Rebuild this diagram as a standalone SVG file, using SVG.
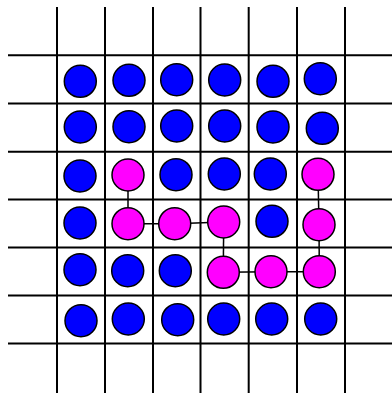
<svg xmlns="http://www.w3.org/2000/svg" width="392" height="393" viewBox="0 0 392 393">
<style>
.grid line{stroke:#000;stroke-width:2}
.conn line{stroke:#000;stroke-width:1.5}
circle{stroke:#000;stroke-width:1.5;r:16px}
.b{fill:#0000ff}
.m{fill:#ff00ff}
</style>
<rect width="392" height="393" fill="#fff"/>
<g class="grid" id="grid">
<line x1="57" y1="7" x2="57" y2="393"/>
<line x1="105" y1="7" x2="105" y2="393"/>
<line x1="153" y1="7" x2="153" y2="393"/>
<line x1="200.5" y1="7" x2="200.5" y2="393"/>
<line x1="248.7" y1="7" x2="248.7" y2="393"/>
<line x1="297" y1="7" x2="297" y2="393"/>
<line x1="345" y1="7" x2="345" y2="393"/>
<line x1="8" y1="55.3" x2="392" y2="55.3"/>
<line x1="8" y1="103.5" x2="392" y2="103.5"/>
<line x1="8" y1="151.7" x2="392" y2="151.7"/>
<line x1="8" y1="199.6" x2="392" y2="199.6"/>
<line x1="8" y1="247.4" x2="392" y2="247.4"/>
<line x1="8" y1="295.4" x2="392" y2="295.4"/>
<line x1="8" y1="343.6" x2="392" y2="343.6"/>
</g>
<g class="conn" id="connectors">
<line x1="128" y1="175" x2="128" y2="223.7"/>
<line x1="128" y1="223.7" x2="174.7" y2="223.7"/>
<line x1="174.7" y1="223.7" x2="223.7" y2="222"/>
<line x1="223.7" y1="222" x2="223.3" y2="272.3"/>
<line x1="223.3" y1="272.3" x2="271" y2="271.7"/>
<line x1="271" y1="271.7" x2="319.3" y2="271.7"/>
<line x1="319.3" y1="271.7" x2="319" y2="224.7"/>
<line x1="319" y1="224.7" x2="318" y2="174.3"/>
</g>
<g id="n11"><circle class="b" cx="80.3" cy="81.3" r="16"/></g>
<g id="n12"><circle class="b" cx="129" cy="80.3" r="16"/></g>
<g id="n13"><circle class="b" cx="176.7" cy="79.7" r="16"/></g>
<g id="n14"><circle class="b" cx="224.7" cy="80" r="16"/></g>
<g id="n15"><circle class="b" cx="273" cy="81.3" r="16"/></g>
<g id="n16"><circle class="b" cx="320.3" cy="78.7" r="16"/></g>
<g id="n21"><circle class="b" cx="80.3" cy="127" r="16"/></g>
<g id="n22"><circle class="b" cx="129" cy="126.7" r="16"/></g>
<g id="n23"><circle class="b" cx="176.7" cy="126" r="16"/></g>
<g id="n24"><circle class="b" cx="224.7" cy="126" r="16"/></g>
<g id="n25"><circle class="b" cx="273" cy="127" r="16"/></g>
<g id="n26"><circle class="b" cx="322.3" cy="128.3" r="16"/></g>
<g id="n31"><circle class="b" cx="80" cy="176" r="16"/></g>
<g id="n32"><circle class="m" cx="128" cy="175" r="16"/></g>
<g id="n33"><circle class="b" cx="176" cy="174.7" r="16"/></g>
<g id="n34"><circle class="b" cx="224.3" cy="174" r="16"/></g>
<g id="n35"><circle class="b" cx="270.3" cy="174" r="16"/></g>
<g id="n36"><circle class="m" cx="318" cy="174.3" r="16"/></g>
<g id="n41"><circle class="b" cx="80" cy="223" r="16"/></g>
<g id="n42"><circle class="m" cx="128" cy="223.7" r="16"/></g>
<g id="n43"><circle class="m" cx="174.7" cy="223.7" r="16"/></g>
<g id="n44"><circle class="m" cx="223.7" cy="222" r="16"/></g>
<g id="n45"><circle class="b" cx="272" cy="221.3" r="16"/></g>
<g id="n46"><circle class="m" cx="319" cy="224.7" r="16"/></g>
<g id="n51"><circle class="b" cx="80" cy="269.7" r="16"/></g>
<g id="n52"><circle class="b" cx="127.7" cy="270.7" r="16"/></g>
<g id="n53"><circle class="b" cx="175.3" cy="270.7" r="16"/></g>
<g id="n54"><circle class="m" cx="223.3" cy="272.3" r="16"/></g>
<g id="n55"><circle class="m" cx="271" cy="271.7" r="16"/></g>
<g id="n56"><circle class="m" cx="319.3" cy="271.7" r="16"/></g>
<g id="n61"><circle class="b" cx="81" cy="320.7" r="16"/></g>
<g id="n62"><circle class="b" cx="128.3" cy="319" r="16"/></g>
<g id="n63"><circle class="b" cx="177.7" cy="319.7" r="16"/></g>
<g id="n64"><circle class="b" cx="223.7" cy="319" r="16"/></g>
<g id="n65"><circle class="b" cx="271.7" cy="319" r="16"/></g>
<g id="n66"><circle class="b" cx="320.7" cy="319" r="16"/></g>
</svg>
